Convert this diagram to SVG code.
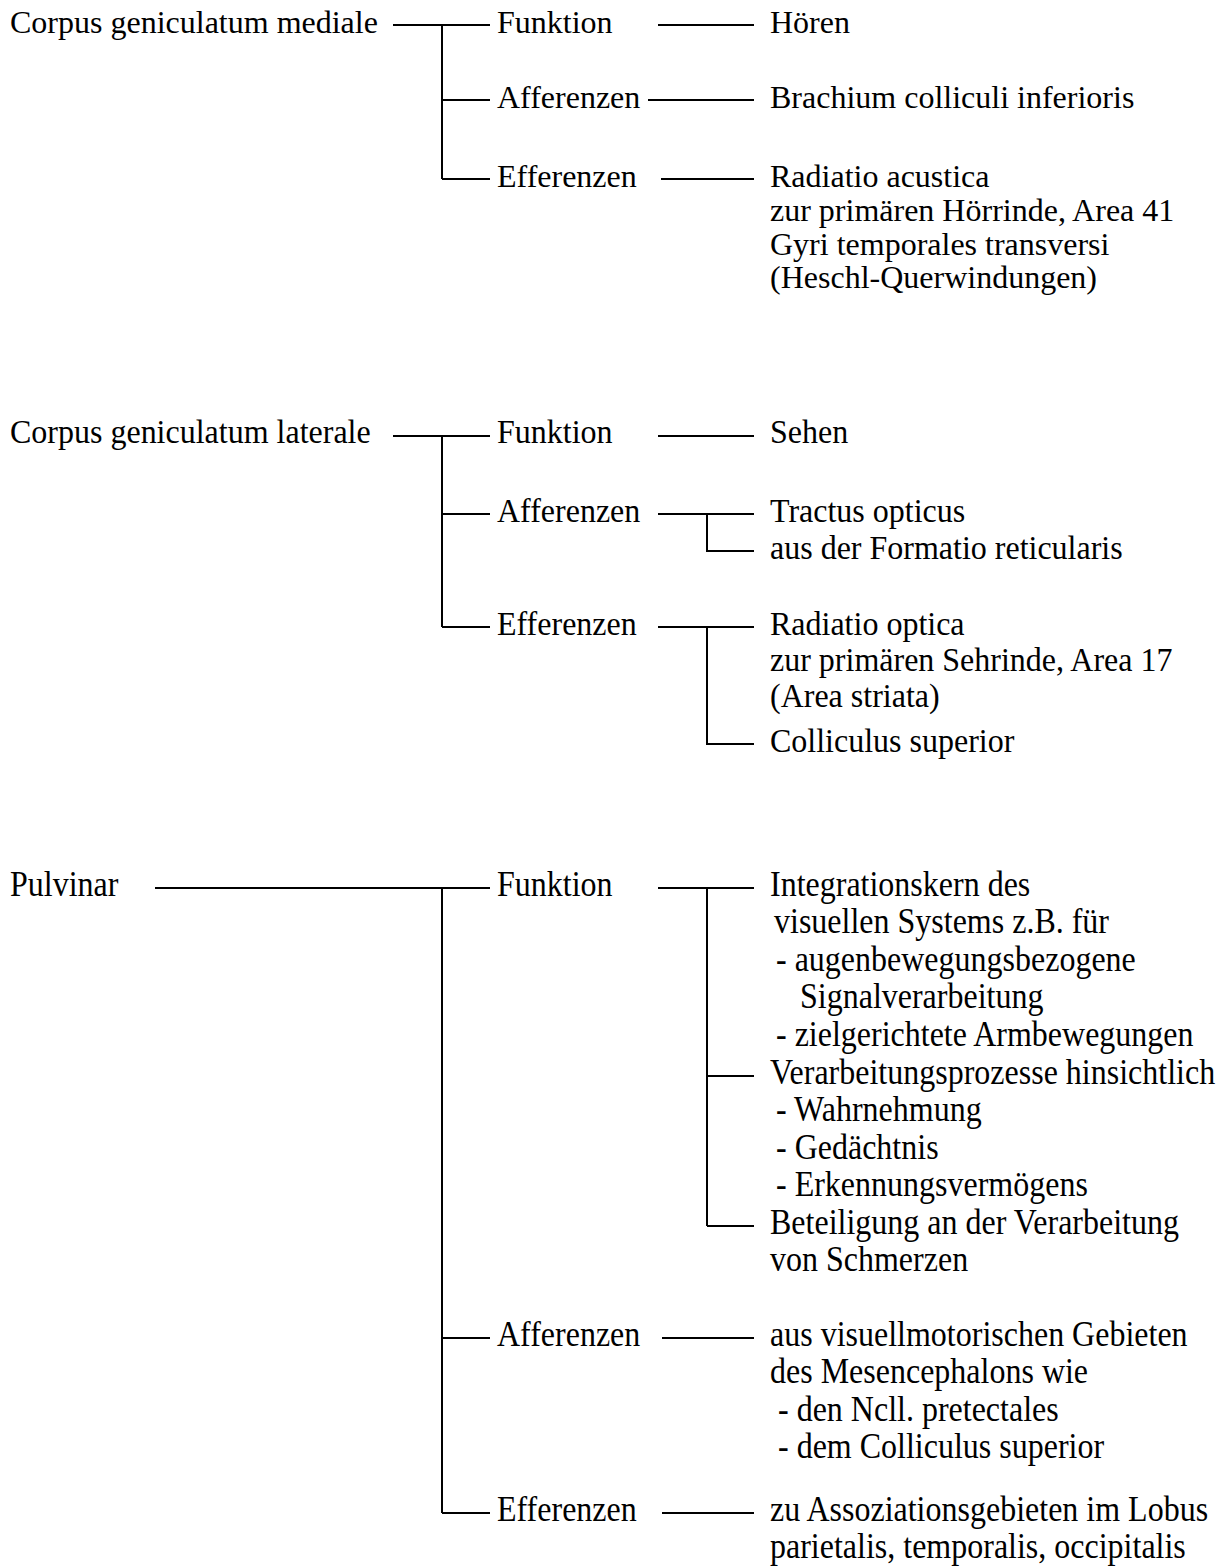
<svg xmlns="http://www.w3.org/2000/svg" width="1220" height="1567" viewBox="0 0 1220 1567">
  <style>
    text { font-family: "Liberation Serif", "Times New Roman", serif; font-size: 32px; fill: #000; }
    .wire { fill: none; stroke: #000; stroke-width: 2; }
  </style>
  <rect width="1220" height="1567" fill="#fff"/>

  <!-- tree connectors -->
  <g id="connectors" class="wire">
    <!-- Corpus geniculatum mediale -->
    <path d="M393,25 H490 M442,25 V179 M442,100 H490 M442,179 H490"/>
    <path d="M658,25 H754 M648,100 H754 M661,179 H754"/>
    <!-- Corpus geniculatum laterale -->
    <path d="M393,436 H490 M442,436 V627 M442,514 H490 M442,627 H490"/>
    <path d="M658,436 H754 M658,514 H754 M707,514 V551 H754 M658,627 H754 M707,627 V744 H754"/>
    <!-- Pulvinar -->
    <path d="M155,888 H490 M442,888 V1513 M442,1338 H490 M442,1513 H490"/>
    <path d="M658,888 H754 M707,888 V1226 M707,1076 H754 M707,1226 H754 M662,1338 H754 M662,1513 H754"/>
  </g>

  <!-- Corpus geniculatum mediale -->
  <g id="cgm">
    <text x="10" y="33">Corpus geniculatum mediale</text>
  </g>
  <g id="cgm-funktion">
    <text x="497" y="33">Funktion</text>
    <text x="770" y="33">Hören</text>
  </g>
  <g id="cgm-afferenzen">
    <text x="497" y="108">Afferenzen</text>
    <text x="770" y="108">Brachium colliculi inferioris</text>
  </g>
  <g id="cgm-efferenzen">
    <text x="497" y="187">Efferenzen</text>
    <text x="770" y="187">Radiatio acustica</text>
    <text x="770" y="221">zur primären Hörrinde, Area 41</text>
    <text x="770" y="255">Gyri temporales transversi</text>
    <text x="770" y="288">(Heschl-Querwindungen)</text>
  </g>

  <!-- Corpus geniculatum laterale -->
  <g id="cgl">
    <text transform="matrix(1 0 0 1.08 10 443)">Corpus geniculatum laterale</text>
  </g>
  <g id="cgl-funktion">
    <text transform="matrix(1 0 0 1.08 497 443)">Funktion</text>
    <text transform="matrix(1 0 0 1.08 770 443)">Sehen</text>
  </g>
  <g id="cgl-afferenzen">
    <text transform="matrix(1 0 0 1.08 497 522)">Afferenzen</text>
    <text transform="matrix(1 0 0 1.08 770 522)">Tractus opticus</text>
    <text transform="matrix(1 0 0 1.08 770 559)">aus der Formatio reticularis</text>
  </g>
  <g id="cgl-efferenzen">
    <text transform="matrix(1 0 0 1.08 497 635)">Efferenzen</text>
    <text transform="matrix(1 0 0 1.08 770 635)">Radiatio optica</text>
    <text transform="matrix(1 0 0 1.08 770 671)">zur primären Sehrinde, Area 17</text>
    <text transform="matrix(1 0 0 1.08 770 707)">(Area striata)</text>
    <text transform="matrix(1 0 0 1.08 770 752)">Colliculus superior</text>
  </g>

  <!-- Pulvinar -->
  <g id="pulvinar">
    <text transform="matrix(1 0 0 1.12 10 896)">Pulvinar</text>
  </g>
  <g id="pulvinar-funktion">
    <text transform="matrix(1 0 0 1.12 497 896)">Funktion</text>
    <text transform="matrix(1 0 0 1.12 770 896)">Integrationskern des</text>
    <text transform="matrix(1 0 0 1.12 774 933)">visuellen Systems z.B. für</text>
    <text transform="matrix(1 0 0 1.12 776 971)">- augenbewegungsbezogene</text>
    <text transform="matrix(1 0 0 1.12 800 1008)">Signalverarbeitung</text>
    <text transform="matrix(1 0 0 1.12 776 1046)">- zielgerichtete Armbewegungen</text>
    <text transform="matrix(1 0 0 1.12 770 1084)">Verarbeitungsprozesse hinsichtlich</text>
    <text transform="matrix(1 0 0 1.12 776 1121)">- Wahrnehmung</text>
    <text transform="matrix(1 0 0 1.12 776 1159)">- Gedächtnis</text>
    <text transform="matrix(1 0 0 1.12 776 1196)">- Erkennungsvermögens</text>
    <text transform="matrix(1 0 0 1.12 770 1234)">Beteiligung an der Verarbeitung</text>
    <text transform="matrix(1 0 0 1.12 770 1271)">von Schmerzen</text>
  </g>
  <g id="pulvinar-afferenzen">
    <text transform="matrix(1 0 0 1.12 497 1346)">Afferenzen</text>
    <text transform="matrix(1 0 0 1.12 770 1346)">aus visuellmotorischen Gebieten</text>
    <text transform="matrix(1 0 0 1.12 770 1383)">des Mesencephalons wie</text>
    <text transform="matrix(1 0 0 1.12 778 1421)">- den Ncll. pretectales</text>
    <text transform="matrix(1 0 0 1.12 778 1458)">- dem Colliculus superior</text>
  </g>
  <g id="pulvinar-efferenzen">
    <text transform="matrix(1 0 0 1.12 497 1521)">Efferenzen</text>
    <text transform="matrix(1 0 0 1.12 770 1521)">zu Assoziationsgebieten im Lobus</text>
    <text transform="matrix(1 0 0 1.12 770 1558)">parietalis, temporalis, occipitalis</text>
  </g>
</svg>
